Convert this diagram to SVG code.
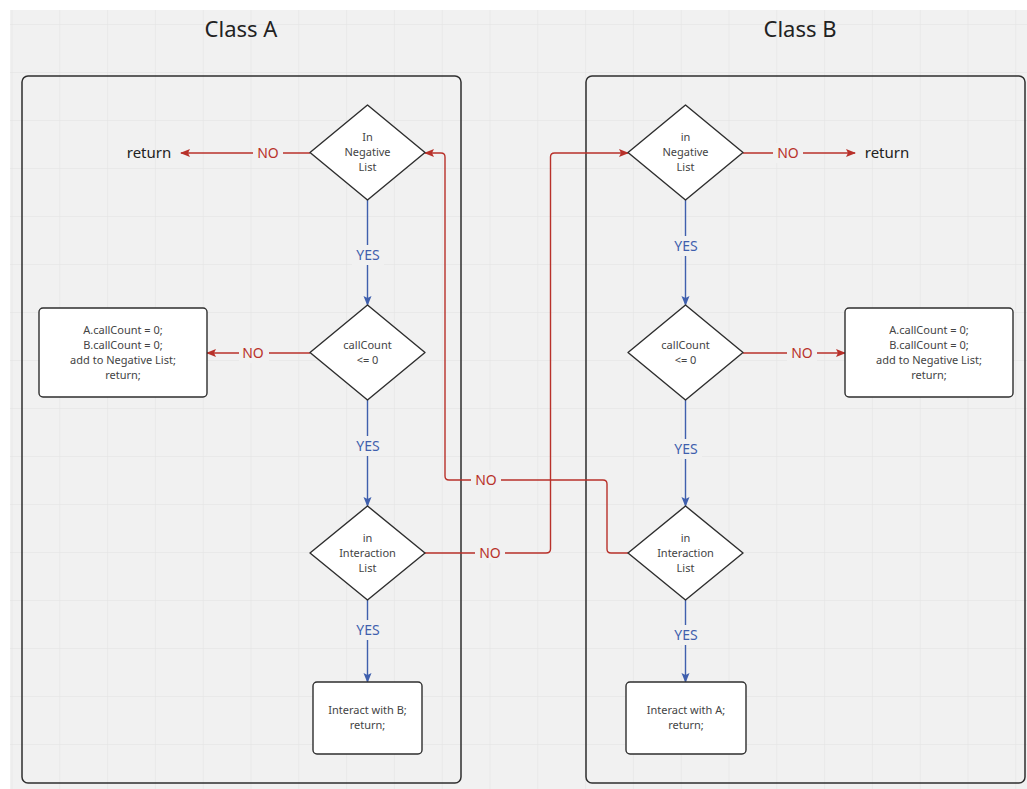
<svg xmlns="http://www.w3.org/2000/svg" width="1027" height="789" viewBox="0 0 1027 789">
<defs>
<pattern id="grid" x="11.5" y="24" width="47.8" height="48" patternUnits="userSpaceOnUse">
<path d="M0 0H47.8M0 0V48" fill="none" stroke="#e2e2e2" stroke-width="1"/>
</pattern>
<marker id="ar" viewBox="0 0 10 10" refX="9" refY="5" markerWidth="10" markerHeight="10" markerUnits="userSpaceOnUse" orient="auto"><path d="M0 1L10 5L0 9L2 5Z" fill="#b8312a"/></marker>
<marker id="ab" viewBox="0 0 10 10" refX="9" refY="5" markerWidth="10" markerHeight="10" markerUnits="userSpaceOnUse" orient="auto"><path d="M0 1L10 5L0 9L2 5Z" fill="#3f5fad"/></marker>
</defs>
<style>
.cont{fill:none;stroke:#2e2e2e;stroke-width:1.5}
.node{fill:#fff;stroke:#2e2e2e;stroke-width:1.4}
.nt{font-family:"Noto Sans",sans-serif;font-size:11px;fill:#444;text-anchor:middle}
.title{font-family:"Noto Sans",sans-serif;font-size:22px;fill:#222;text-anchor:middle}
.ret{font-family:"Noto Sans",sans-serif;font-size:15px;fill:#222;text-anchor:middle}
.red{fill:none;stroke:#b8312a;stroke-width:1.4}
.blue{fill:none;stroke:#3f5fad;stroke-width:1.4}
.lr{font-family:"Noto Sans",sans-serif;font-size:14px;fill:#b8312a;text-anchor:middle}
.lb{font-family:"Noto Sans",sans-serif;font-size:14px;fill:#3f5fad;text-anchor:middle}
.bgl{fill:#f1f1f1}
</style>
<rect x="0" y="0" width="1027" height="789" fill="#fff"/>
<rect x="10" y="10" width="1017" height="779" class="bgl"/>
<rect x="10" y="10" width="1017" height="779" fill="url(#grid)"/>

<g id="classA">
<rect x="22" y="76" width="439" height="707" rx="6" class="cont"/>
<text x="241" y="37" class="title">Class A</text>
</g>
<g id="classB">
<rect x="586" y="76" width="439" height="707" rx="6" class="cont"/>
<text x="800" y="37" class="title">Class B</text>
</g>

<g id="connectors">
<!-- Class A -->
<path d="M310 153H181" class="red" marker-end="url(#ar)"/>
<rect x="253" y="143" width="30" height="20" class="bgl"/>
<text x="268" y="158" class="lr">NO</text>
<path d="M367.5 200V305" class="blue" marker-end="url(#ab)"/>
<rect x="352" y="245" width="32" height="20" class="bgl"/>
<text x="368" y="260" class="lb">YES</text>
<path d="M310 353H207" class="red" marker-end="url(#ar)"/>
<rect x="239" y="343" width="30" height="20" class="bgl"/>
<text x="253" y="358" class="lr">NO</text>
<path d="M367.5 400V506" class="blue" marker-end="url(#ab)"/>
<rect x="352" y="436" width="32" height="20" class="bgl"/>
<text x="368" y="451" class="lb">YES</text>
<path d="M367.5 600V682" class="blue" marker-end="url(#ab)"/>
<rect x="352" y="620" width="32" height="20" class="bgl"/>
<text x="368" y="635" class="lb">YES</text>
<!-- Class B -->
<path d="M743 153H855" class="red" marker-end="url(#ar)"/>
<rect x="773" y="143" width="30" height="20" class="bgl"/>
<text x="788" y="158" class="lr">NO</text>
<path d="M685.5 200V305" class="blue" marker-end="url(#ab)"/>
<rect x="670" y="236" width="32" height="20" class="bgl"/>
<text x="686" y="251" class="lb">YES</text>
<path d="M743 353H845" class="red" marker-end="url(#ar)"/>
<rect x="787" y="343" width="30" height="20" class="bgl"/>
<text x="802" y="358" class="lr">NO</text>
<path d="M685.5 400V506" class="blue" marker-end="url(#ab)"/>
<rect x="670" y="439" width="32" height="20" class="bgl"/>
<text x="686" y="454" class="lb">YES</text>
<path d="M685.5 600V682" class="blue" marker-end="url(#ab)"/>
<rect x="670" y="625" width="32" height="20" class="bgl"/>
<text x="686" y="640" class="lb">YES</text>
<!-- cross -->
<path d="M425 553H546Q550.5 553 550.5 549V157Q550.5 153 554.5 153H628" class="red" marker-end="url(#ar)"/>
<rect x="475" y="543" width="30" height="20" class="bgl"/>
<text x="490" y="558" class="lr">NO</text>
<path d="M628 553H611Q607 553 607 549V484Q607 480 603 480H449Q445 480 445 476V157Q445 153 441 153H425" class="red" marker-end="url(#ar)"/>
<rect x="471" y="470" width="30" height="20" class="bgl"/>
<text x="486" y="485" class="lr">NO</text>
</g>

<g id="returnA"><text x="149" y="158" class="ret">return</text></g>
<g id="returnB"><text x="887" y="158" class="ret">return</text></g>

<g id="negA">
<path d="M367.5 105L425 152.5L367.5 200L310 152.5Z" class="node" stroke-linejoin="round"/>
<text class="nt"><tspan x="367.5" y="141">In</tspan><tspan x="367.5" y="156">Negative</tspan><tspan x="367.5" y="171">List</tspan></text>
</g>
<g id="callA">
<path d="M367.5 305L425 352.5L367.5 400L310 352.5Z" class="node" stroke-linejoin="round"/>
<text class="nt"><tspan x="367.5" y="349">callCount</tspan><tspan x="367.5" y="364">&lt;= 0</tspan></text>
</g>
<g id="interA">
<path d="M367.5 506L425 553L367.5 600L310 553Z" class="node" stroke-linejoin="round"/>
<text class="nt"><tspan x="367.5" y="542">in</tspan><tspan x="367.5" y="557">Interaction</tspan><tspan x="367.5" y="572">List</tspan></text>
</g>
<g id="resetA">
<rect x="39" y="308" width="168" height="89" rx="4" class="node"/>
<text class="nt"><tspan x="123" y="334">A.callCount = 0;</tspan><tspan x="123" y="349">B.callCount = 0;</tspan><tspan x="123" y="364">add to Negative List;</tspan><tspan x="123" y="379">return;</tspan></text>
</g>
<g id="actA">
<rect x="313" y="682" width="109" height="72" rx="4" class="node"/>
<text class="nt"><tspan x="367.5" y="714">Interact with B;</tspan><tspan x="367.5" y="729">return;</tspan></text>
</g>

<g id="negB">
<path d="M685.5 105L743 152.5L685.5 200L628 152.5Z" class="node" stroke-linejoin="round"/>
<text class="nt"><tspan x="685.5" y="141">in</tspan><tspan x="685.5" y="156">Negative</tspan><tspan x="685.5" y="171">List</tspan></text>
</g>
<g id="callB">
<path d="M685.5 305L743 352.5L685.5 400L628 352.5Z" class="node" stroke-linejoin="round"/>
<text class="nt"><tspan x="685.5" y="349">callCount</tspan><tspan x="685.5" y="364">&lt;= 0</tspan></text>
</g>
<g id="interB">
<path d="M685.5 506L743 553L685.5 600L628 553Z" class="node" stroke-linejoin="round"/>
<text class="nt"><tspan x="685.5" y="542">in</tspan><tspan x="685.5" y="557">Interaction</tspan><tspan x="685.5" y="572">List</tspan></text>
</g>
<g id="resetB">
<rect x="845" y="308" width="168" height="89" rx="4" class="node"/>
<text class="nt"><tspan x="929" y="334">A.callCount = 0;</tspan><tspan x="929" y="349">B.callCount = 0;</tspan><tspan x="929" y="364">add to Negative List;</tspan><tspan x="929" y="379">return;</tspan></text>
</g>
<g id="actB">
<rect x="626" y="682" width="120" height="72" rx="4" class="node"/>
<text class="nt"><tspan x="686" y="714">Interact with A;</tspan><tspan x="686" y="729">return;</tspan></text>
</g>
</svg>
